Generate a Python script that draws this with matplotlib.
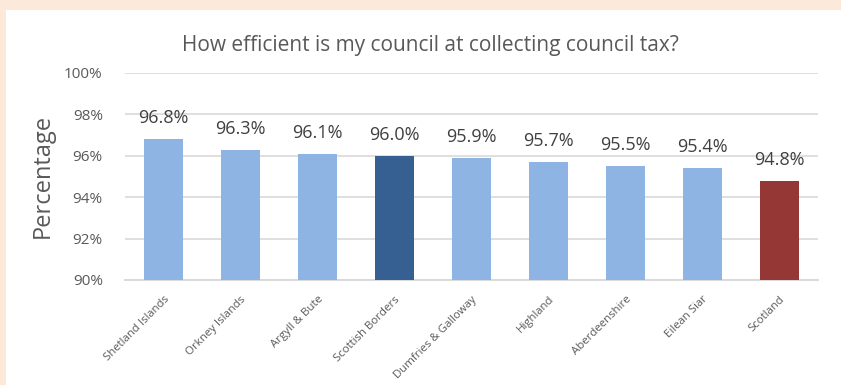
import matplotlib.pyplot as plt
import numpy as np

councils = ["Shetland Islands", "Orkney Islands", "Argyll & Bute", "Scottish Borders",
            "Dumfries & Galloway", "Highland", "Aberdeenshire", "Eilean Siar", "Scotland"]
collected = [96.8, 96.3, 96.1, 96.0, 95.9, 95.7, 95.5, 95.4, 94.8]
bar_colors = ["#8EB4E3", "#8EB4E3", "#8EB4E3", "#376092", "#8EB4E3",
              "#8EB4E3", "#8EB4E3", "#8EB4E3", "#953735"]
yticks = [90, 92, 94, 96, 98, 100]

plt.rcParams['font.family'] = ['Open Sans', 'DejaVu Sans']

fig = plt.figure(figsize=(8.41, 3.85), dpi=100)
fig.patch.set_facecolor("#FDE9D9")
# white panel inside the peach frame
panel = plt.Rectangle((6 / 841, 0), 1, 1 - 10 / 385, transform=fig.transFigure,
                      facecolor="white", edgecolor="none", zorder=-1)
fig.patches.append(panel)

ax = fig.add_axes([125 / 841, 1 - 280 / 385, (818 - 125) / 841, (280 - 73) / 385])
ax.set_zorder(2)
ax.set_facecolor("white")
x = np.arange(len(councils))
ax.bar(x, [v - 90 for v in collected], bottom=90, width=0.5, color=bar_colors, zorder=3)

for xi, v in zip(x, collected):
    ax.text(xi, v + 0.58, "%.1f%%" % v, ha="center", va="bottom", fontsize=13, color="#404040")

ax.set_ylim(90, 100)
ax.set_xlim(-0.5, len(councils) - 0.5)
ax.set_yticks(yticks)
ax.set_yticklabels(["%d%%" % t for t in yticks], fontsize=11, color="#595959")
ax.set_xticks(x)
ax.set_xticklabels(councils, rotation=45, ha="right", rotation_mode="anchor",
                   fontsize=8.2, color="#595959")
ax.tick_params(axis="y", length=0, pad=16)
ax.tick_params(axis="x", length=0, pad=10)
ax.grid(axis="y", color="#D9D9D9", linewidth=1.2, zorder=0)
for s in ["top", "right", "left"]:
    ax.spines[s].set_visible(False)
ax.spines["bottom"].set_color("#D9D9D9")
ax.spines["bottom"].set_linewidth(1.4)

fig.text(43 / 841, 1 - 176 / 385, "Percentage", rotation=90, ha="center", va="center",
         fontsize=17, color="#595959")
fig.text((178 + 683) / 2 / 841, 1 - 45 / 385, "How efficient is my council at collecting council tax?",
         ha="center", va="center", fontsize=15, color="#595959", zorder=3)

fig.savefig("out.png", dpi=100, facecolor=fig.get_facecolor())
